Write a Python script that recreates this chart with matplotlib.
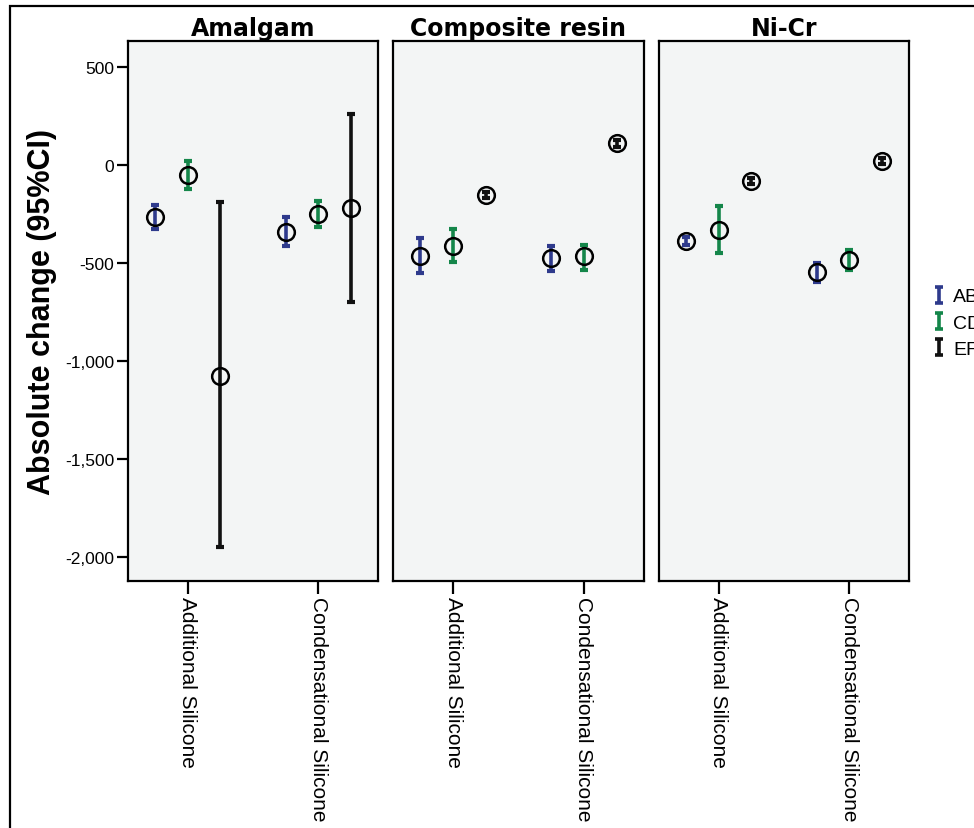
"""Error-bar chart: absolute change (95% CI) by impression material, split by substrate."""

import matplotlib

matplotlib.use("Agg")
import matplotlib.pyplot as plt
from matplotlib.lines import Line2D
from matplotlib.patches import Rectangle
from matplotlib.path import Path
import matplotlib.ticker as mticker
import numpy as np

# ── data ─────────────────────────────────────────────────────────────
PANELS = ["Amalgam", "Composite resin", "Ni-Cr"]
CATEGORIES = ["Additional Silicone", "Condensational Silicone"]
SERIES = ["AB", "CD", "EF"]

# mean / lower / upper, indexed [panel][category]
AB_MEAN = [[-266, -342], [-465, -475], [-388, -547]]
AB_LOW = [[-327, -414], [-552, -542], [-410, -598]]
AB_HIGH = [[-205, -266], [-373, -414], [-366, -501]]

CD_MEAN = [[-51, -250], [-414, -465], [-332, -486]]
CD_LOW = [[-123, -317], [-496, -537], [-450, -537]]
CD_HIGH = [[20, -184], [-327, -409], [-210, -435]]

EF_MEAN = [[-1074, -220], [-153, 112], [-82, 20]]
EF_LOW = [[-1948, -700], [-170, 95], [-98, 5]]
EF_HIGH = [[-189, 261], [-136, 129], [-66, 35]]

# ── style ────────────────────────────────────────────────────────────
COLORS = {"AB": "#2e3a8c", "CD": "#14864a", "EF": "#111111"}
OFFSETS = {"AB": -0.25, "CD": 0.0, "EF": 0.25}
SERIES_DATA = {
    "AB": (AB_MEAN, AB_LOW, AB_HIGH),
    "CD": (CD_MEAN, CD_LOW, CD_HIGH),
    "EF": (EF_MEAN, EF_LOW, EF_HIGH),
}
PANEL_BG = "#f3f5f5"
SANS = ["Liberation Sans", "DejaVu Sans"]

plt.rcParams.update({"font.family": SANS, "axes.linewidth": 1.6})

W, H = 974, 829
fig = plt.figure(figsize=(W / 100, H / 100), dpi=100)

# panel placement in pixels (left, right)
panel_px = [(128, 378), (393, 644), (659, 909)]
top_px, bottom_px = 42, 582

axes = []
for i, (l, r) in enumerate(panel_px):
    ax = fig.add_axes(
        [l / W, 1 - bottom_px / H, (r - l) / W, (bottom_px - top_px) / H]
    )
    ax.set_facecolor(PANEL_BG)
    axes.append(ax)

x = np.arange(len(CATEGORIES))
for i, ax in enumerate(axes):
    for s in SERIES:
        mean, low, high = SERIES_DATA[s]
        m = np.array(mean[i], dtype=float)
        lo = np.array(low[i], dtype=float)
        hi = np.array(high[i], dtype=float)
        ax.errorbar(
            x + OFFSETS[s],
            m,
            yerr=[m - lo, hi - m],
            fmt="none",
            ecolor=COLORS[s],
            elinewidth=2.6,
            capsize=3,
            capthick=3,
            zorder=3,
        )
        ax.plot(
            x + OFFSETS[s],
            m,
            "o",
            markersize=12,
            markerfacecolor="none",
            markeredgecolor="black",
            markeredgewidth=1.8,
            zorder=4,
        )

    ax.set_xlim(-0.46, 1.46)
    ax.set_ylim(-2123, 634)
    ax.set_xticks(x)
    ax.set_xticklabels(CATEGORIES, rotation=-90, fontsize=15, va="top", ha="center")
    ax.tick_params(axis="x", length=9, width=1.6, pad=2)
    ax.set_title(PANELS[i], fontsize=17, fontweight="bold",
                 family=["DejaVu Sans"], pad=4)
    ax.yaxis.set_major_locator(mticker.MultipleLocator(500))
    if i == 0:
        ax.yaxis.set_major_formatter(
            mticker.FuncFormatter(lambda v, _: f"{v:,.0f}")
        )
        ax.tick_params(axis="y", length=8, width=1.6, labelsize=12.5, pad=2)
        ax.set_ylabel("Absolute change (95%CI)", fontsize=22,
                      fontweight="bold", labelpad=6)
    else:
        ax.tick_params(axis="y", left=False, labelleft=False)

# legend with error-bar shaped icons
ibar = Path(
    [(-0.5, 1), (0.5, 1), (0, 1), (0, -1), (-0.5, -1), (0.5, -1)],
    [Path.MOVETO, Path.LINETO, Path.MOVETO, Path.LINETO, Path.MOVETO, Path.LINETO],
)
handles = [
    Line2D([], [], linestyle="none", marker=ibar, markersize=11,
           markeredgewidth=2.6, color=COLORS[s])
    for s in SERIES
]
fig.legend(
    handles,
    SERIES,
    loc="center left",
    bbox_to_anchor=(914 / W, 1 - 324 / H),
    frameon=False,
    fontsize=14,
    handlelength=0.8,
    handletextpad=0.3,
    labelspacing=0.45,
)

# outer frame of the figure
fig.patches.append(
    Rectangle((10 / W, -0.1), 1.2, 1.1 - 7 / H, transform=fig.transFigure,
              fill=False, edgecolor="black", linewidth=1.6)
)

fig.savefig("out.png", dpi=100)
